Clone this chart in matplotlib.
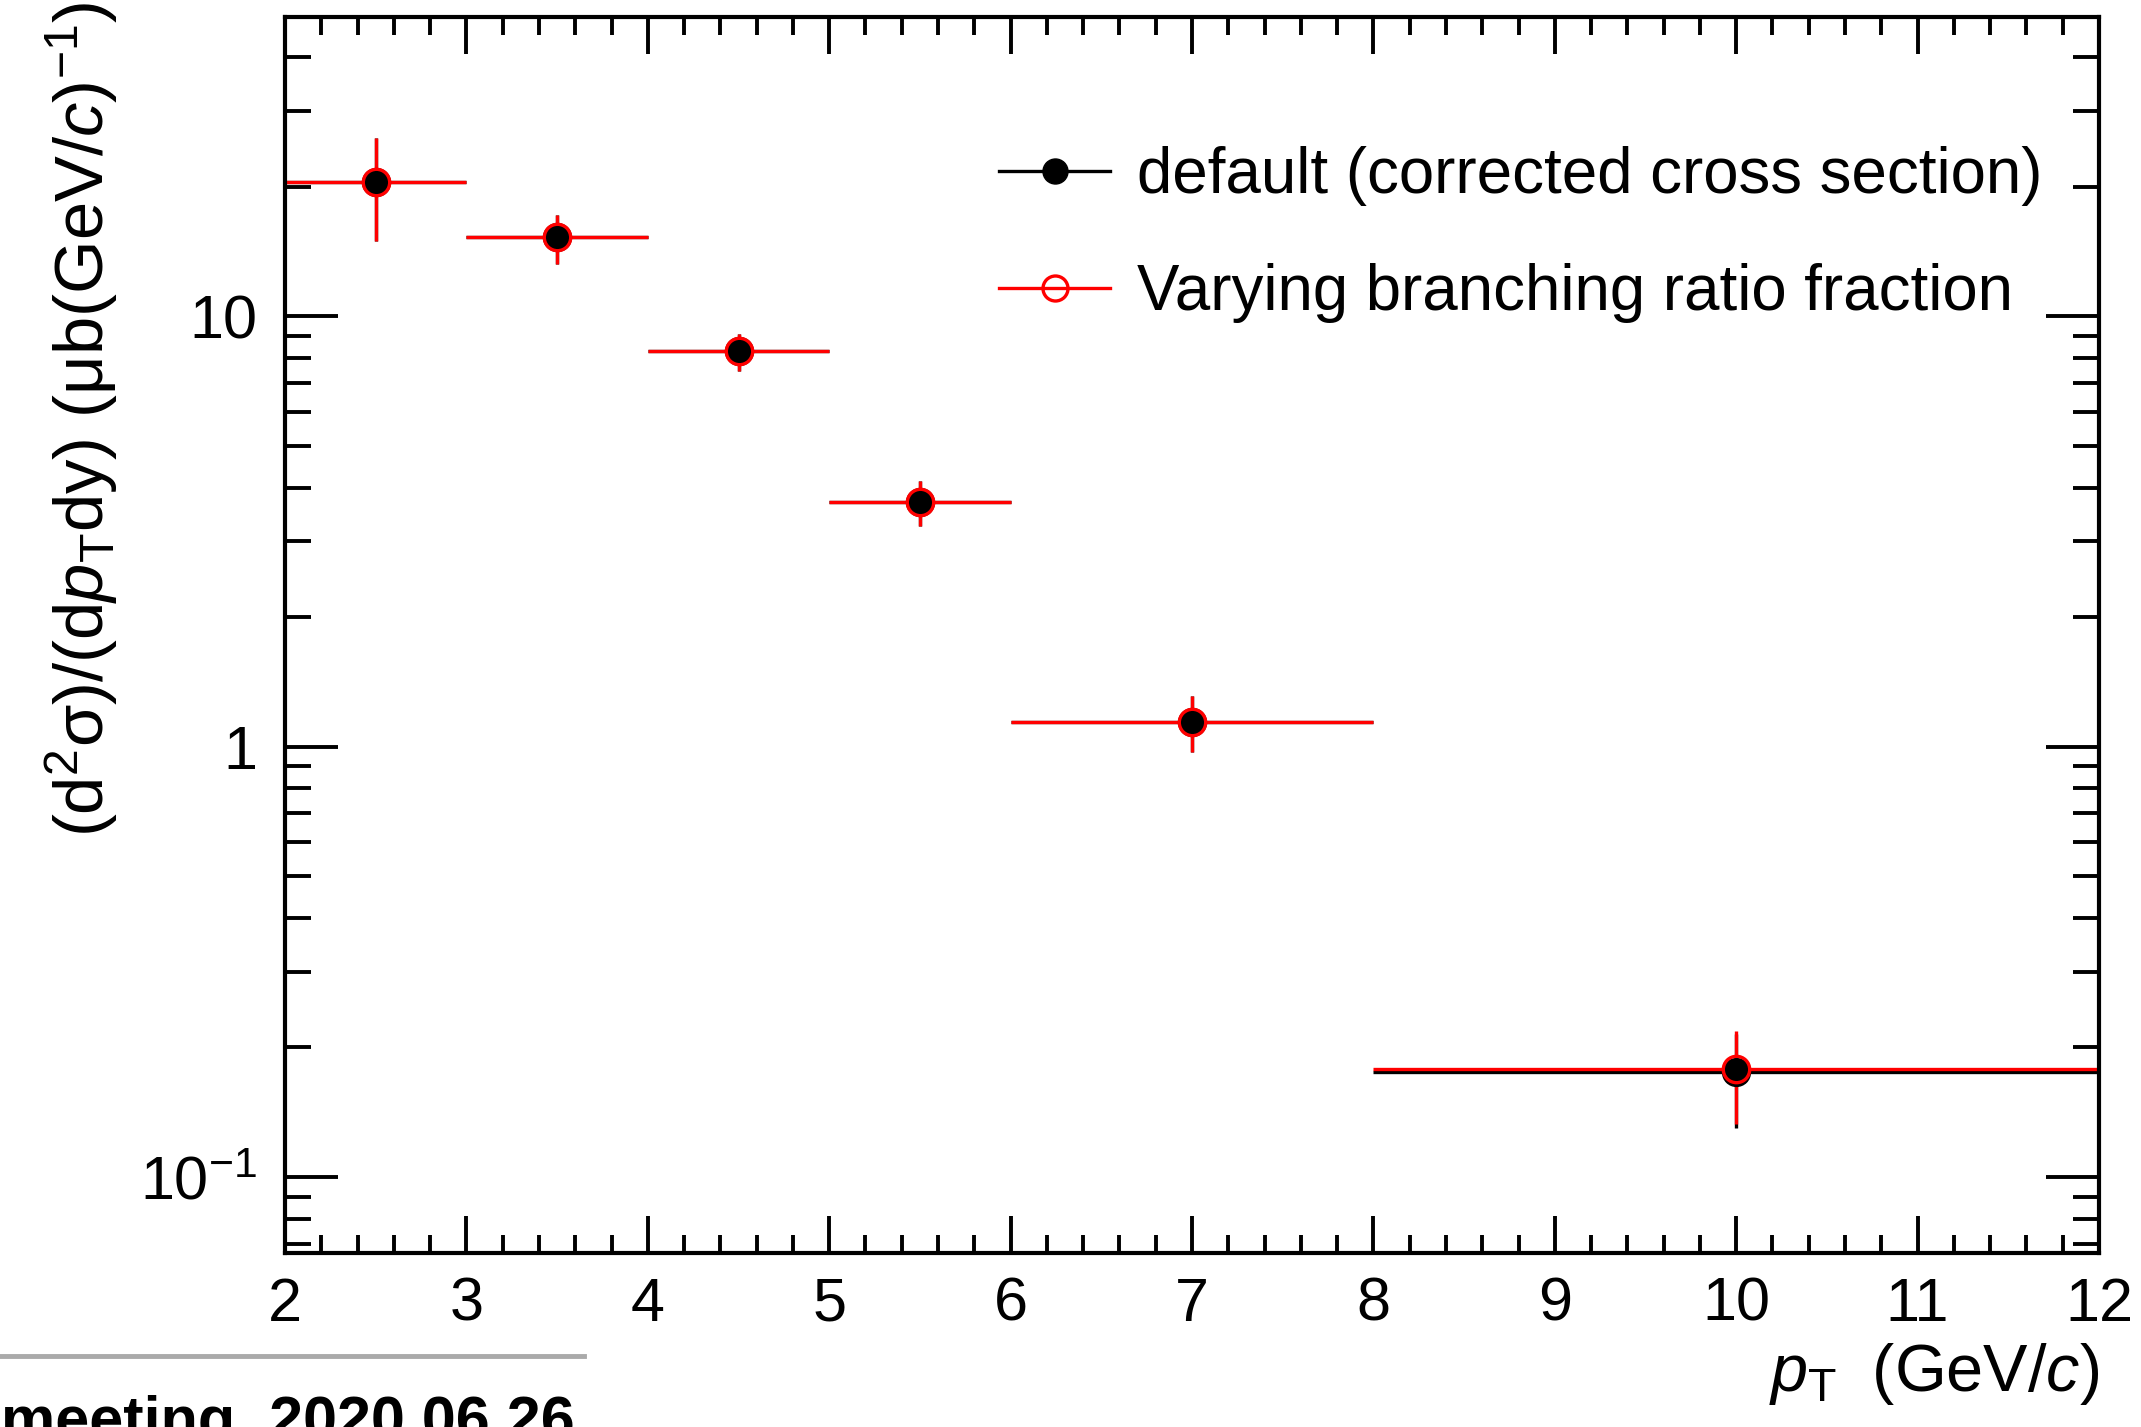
"""
Cross section vs pT, default vs varied branching ratio fraction.
"""

import numpy as np
import matplotlib
matplotlib.use("Agg")
import matplotlib.pyplot as plt
from matplotlib.lines import Line2D
from matplotlib.ticker import MultipleLocator, FixedLocator, FixedFormatter, LogLocator, NullFormatter

# bin centres and half widths in pT (GeV/c)
pt = [2.5, 3.5, 4.5, 5.5, 7.0, 10.0]
pt_err = [0.5, 0.5, 0.5, 0.5, 1.0, 2.0]

# default (corrected cross section)
xsec_default = [20.5, 15.3, 8.3, 3.70, 1.14, 0.175]
xsec_default_lo = [5.5, 2.1, 0.85, 0.44, 0.17, 0.045]
xsec_default_hi = [5.5, 1.9, 0.80, 0.44, 0.17, 0.040]

# varying branching ratio fraction
xsec_br = [20.5, 15.3, 8.3, 3.70, 1.14, 0.178]
xsec_br_lo = [5.5, 2.1, 0.85, 0.44, 0.17, 0.045]
xsec_br_hi = [5.5, 1.9, 0.80, 0.44, 0.17, 0.040]

labels = ["default (corrected cross section)", "Varying branching ratio fraction"]

y_tick_vals = [0.1, 1, 10]
y_tick_labels = [r"$10^{-1}$", "1", "10"]

# fonts, Helvetica-like
plt.rcParams["font.family"] = ["Liberation Sans", "DejaVu Sans"]
plt.rcParams["mathtext.fontset"] = "custom"
plt.rcParams["mathtext.rm"] = "Liberation Sans"
plt.rcParams["mathtext.it"] = "Liberation Sans:italic"
plt.rcParams["mathtext.bf"] = "Liberation Sans:bold"

W, H = 2141, 1427
fs = 44

fig = plt.figure(figsize=(W / 100, H / 100), dpi=100)
ax = fig.add_axes([285 / W, 1 - 1253 / H, (2099 - 285) / W, (1253 - 17) / H])

# error bars first (black under red), then filled black markers, then red rings
ax.errorbar(pt, xsec_default, xerr=pt_err, yerr=[xsec_default_lo, xsec_default_hi],
            fmt="none", ecolor="k", elinewidth=2.4, capsize=0, zorder=1)
ax.errorbar(pt, xsec_br, xerr=pt_err, yerr=[xsec_br_lo, xsec_br_hi],
            fmt="none", ecolor="red", elinewidth=2.4, capsize=0, zorder=2)
ax.plot(pt, xsec_default, "o", color="k", ms=20, mec="k", zorder=3)
ax.plot(pt, xsec_br, "o", ms=19, mfc="none", mec="red", mew=2.4, zorder=4)

# axes
ax.set_yscale("log")
ax.set_xlim(2, 12)
ax.set_ylim(0.0666, 49.6)

ax.xaxis.set_major_locator(MultipleLocator(1))
ax.xaxis.set_minor_locator(MultipleLocator(0.2))
ax.yaxis.set_major_locator(FixedLocator(y_tick_vals))
ax.yaxis.set_major_formatter(FixedFormatter(y_tick_labels))
ax.yaxis.set_minor_locator(LogLocator(base=10, subs=np.arange(2, 10)))
ax.yaxis.set_minor_formatter(NullFormatter())

for s in ax.spines.values():
    s.set_linewidth(3)

ax.tick_params(axis="both", which="both", direction="in", top=True, right=True,
               width=2.8, labelsize=fs)
ax.tick_params(axis="x", which="major", length=26.6, pad=17)
ax.tick_params(axis="x", which="minor", length=13)
ax.tick_params(axis="y", which="major", length=38, pad=20)
ax.tick_params(axis="y", which="minor", length=19)

# axis titles
fig.text(2099 / W, 1 - 1374 / H, r"$p_{\mathrm{T}}\;$ (GeV/$c$)", fontsize=48,
         ha="right", va="center")
fig.text(82 / W, 1 - 2 / H, r"(d$^{2}$σ)/(d$p_{\mathrm{T}}$dy) (μb(GeV/$c$)$^{-1}$)",
         fontsize=49.5, rotation=90, ha="center", va="top")

# legend
handles = [
    Line2D([], [], color="k", lw=2.4, marker="o", ms=18, mfc="k", mec="k"),
    Line2D([], [], color="red", lw=2.4, marker="o", ms=18, mfc="none", mec="red", mew=2.4),
]
ax.legend(handles, labels, loc="upper left", bbox_to_anchor=(999 / W, 1 - 146 / H),
          bbox_transform=fig.transFigure, frameon=False, fontsize=45.8,
          handlelength=1.75, handletextpad=0.42, labelspacing=0.9, borderpad=0,
          borderaxespad=0)

# footer of the slide
fig.add_artist(Line2D([0, 584 / W], [1 - 1356 / H, 1 - 1356 / H], color="#aaaaaa",
                      lw=3.5, transform=fig.transFigure))
fig.text(575 / W, 1 - 1395 / H, "meeting, 2020.06.26", fontsize=fs, fontweight="bold",
         ha="right", va="top")

fig.savefig("out.png", dpi=100)
